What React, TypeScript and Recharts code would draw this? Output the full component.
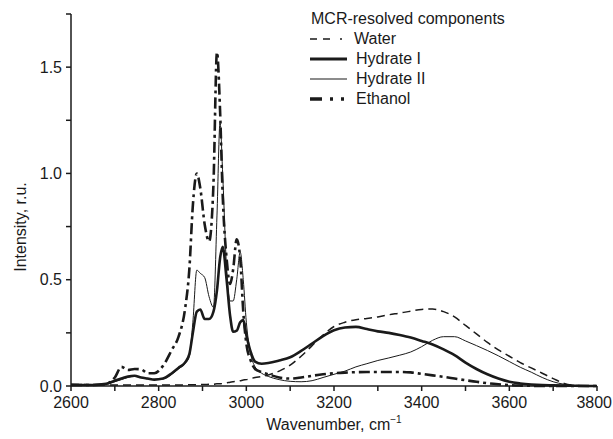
import React from "react";
import { LineChart, Line, XAxis, YAxis, Label } from "recharts";

const wavenumbers = [
  2600, 2650, 2680, 2700, 2715, 2730, 2745, 2760, 2775, 2790,
  2810, 2830, 2845, 2860, 2870, 2878, 2887, 2895, 2905, 2915,
  2925, 2933, 2940, 2946, 2955, 2963, 2970, 2978, 2986, 2993,
  3000, 3010, 3020, 3035, 3050, 3075, 3100, 3125, 3150, 3175,
  3200, 3225, 3250, 3275, 3300, 3325, 3350, 3375, 3400, 3425,
  3450, 3475, 3500, 3525, 3550, 3575, 3600, 3625, 3650, 3675,
  3700, 3725, 3750, 3800,
];

const water = [
  0.008, 0.006, 0.005, 0.005, 0.005, 0.005, 0.005, 0.005, 0.005, 0.005,
  0.005, 0.005, 0.005, 0.005, 0.006, 0.006, 0.006, 0.007, 0.007, 0.008,
  0.008, 0.01, 0.01, 0.012, 0.015, 0.018, 0.02, 0.022, 0.025, 0.028,
  0.03, 0.035, 0.04, 0.045, 0.052, 0.07, 0.098, 0.14, 0.19, 0.24,
  0.28, 0.3, 0.312, 0.318, 0.325, 0.335, 0.343, 0.352, 0.36, 0.362,
  0.35, 0.325, 0.285, 0.245, 0.205, 0.17, 0.14, 0.11, 0.085, 0.06,
  0.035, 0.012, 0.003, 0,
];

const hydrateI = [
  0.005, 0.005, 0.01, 0.025, 0.035, 0.045, 0.048, 0.04, 0.035, 0.03,
  0.035, 0.06, 0.085, 0.11, 0.15, 0.25, 0.35, 0.36, 0.315, 0.315,
  0.35, 0.45, 0.6, 0.655, 0.5, 0.33, 0.255, 0.26, 0.3, 0.31,
  0.24, 0.16, 0.115, 0.105, 0.108, 0.12, 0.135, 0.165, 0.2, 0.235,
  0.262, 0.275, 0.278, 0.268, 0.257, 0.25, 0.24, 0.228, 0.212, 0.195,
  0.172, 0.145, 0.11, 0.08, 0.055, 0.035, 0.02, 0.012, 0.007, 0.004,
  0.003, 0.002, 0.001, 0,
];

const hydrateII = [
  0.005, 0.005, 0.01, 0.02, 0.03, 0.04, 0.045, 0.04, 0.033, 0.03,
  0.033, 0.055, 0.08, 0.105, 0.14, 0.3, 0.545, 0.53, 0.51, 0.42,
  0.37, 0.8, 1.24, 1.0, 0.55, 0.4, 0.4, 0.5, 0.63, 0.5,
  0.3, 0.15, 0.09, 0.06, 0.045, 0.03, 0.022, 0.02, 0.025, 0.04,
  0.055, 0.07, 0.09, 0.105, 0.12, 0.132, 0.145, 0.16, 0.185, 0.215,
  0.232, 0.232, 0.212, 0.19, 0.167, 0.142, 0.115, 0.088, 0.065, 0.04,
  0.02, 0.008, 0.002, 0,
];

const ethanol = [
  0.005, 0.005, 0.01, 0.04, 0.09, 0.075, 0.08, 0.078, 0.06, 0.06,
  0.095, 0.17, 0.23, 0.36, 0.55, 0.85, 1.0, 0.93, 0.76, 0.68,
  0.95, 1.57, 1.3, 0.9, 0.6, 0.48, 0.55, 0.69, 0.6, 0.35,
  0.2, 0.12, 0.08, 0.065, 0.055, 0.04, 0.035, 0.04, 0.048, 0.055,
  0.06, 0.063, 0.065, 0.066, 0.066, 0.066, 0.066, 0.064, 0.057, 0.05,
  0.043, 0.035, 0.027, 0.02, 0.013, 0.008, 0.004, 0.002, 0.001, 0,
  0, 0, 0, 0,
];

const xTicks = [2600, 2700, 2800, 2900, 3000, 3100, 3200, 3300, 3400, 3500, 3600, 3700, 3800];
const yTicks = [0, 0.25, 0.5, 0.75, 1, 1.25, 1.5, 1.75];
const yLabelled = [0, 0.5, 1, 1.5];

const FONT = '"Liberation Sans", Arial, sans-serif';
const INK = "#1a1a1a";

const series = [
  { key: "water", name: "Water", width: 1.5, dash: "8 5", legendDash: "7 6 7 10 2 10", legendWidth: 1.5 },
  { key: "hydrateI", name: "Hydrate I", width: 2.6, dash: undefined, legendDash: undefined, legendWidth: 3 },
  { key: "hydrateII", name: "Hydrate II", width: 1, dash: undefined, legendDash: undefined, legendWidth: 1.2 },
  { key: "ethanol", name: "Ethanol", width: 2.6, dash: "11 4 3 4", legendDash: "12 8 3 8 3 10", legendWidth: 3.5 },
];

const data = wavenumbers.map((w, i) => ({
  w,
  water: water[i],
  hydrateI: hydrateI[i],
  hydrateII: hydrateII[i],
  ethanol: ethanol[i],
}));

// x tick labels only every 200; keep the last one inside the frame
function XTick(props: any) {
  const { x, y, payload } = props;
  const v = payload.value as number;
  if (v % 200 !== 0) return null;
  const last = v === 3800;
  return (
    <text
      x={last ? 612 : x}
      y={y}
      dy="0.71em"
      textAnchor={last ? "end" : "middle"}
      fill={INK}
      fontSize={16}
      fontFamily={FONT}
    >
      {v}
    </text>
  );
}

function ChartLegend() {
  return (
    <div
      style={{
        position: "absolute",
        left: 310,
        top: 9,
        fontFamily: FONT,
        fontSize: 16,
        lineHeight: "20px",
        color: INK,
      }}
    >
      <div style={{ marginLeft: 1 }}>MCR-resolved components</div>
      {series.map((s) => (
        <div key={s.key} style={{ display: "flex", alignItems: "center", height: 20 }}>
          <svg width={44} height={20}>
            <line
              x1={0}
              x2={37}
              y1={10}
              y2={10}
              stroke={INK}
              strokeWidth={s.legendWidth}
              strokeDasharray={s.legendDash}
            />
          </svg>
          <span style={{ marginLeft: s.key === "water" ? 0 : 2 }}>{s.name}</span>
        </div>
      ))}
    </div>
  );
}

export default function App() {
  return (
    <div style={{ position: "absolute", left: 0, top: 0, width: 613, height: 439, background: "#fff" }}>
      <LineChart
        width={613}
        height={439}
        data={data}
        margin={{ top: 14, right: 16, bottom: 0, left: 0 }}
      >
        <XAxis
          dataKey="w"
          type="number"
          domain={[2600, 3800]}
          ticks={xTicks}
          height={53}
          tickSize={5}
          tickMargin={6}
          stroke={INK}
          strokeWidth={1.5}
          tick={<XTick />}
          interval={0}
        >
          <Label
            content={() => (
              <text x={334} y={430} textAnchor="middle" fill={INK} fontSize={16} fontFamily={FONT}>
                Wavenumber, cm
                <tspan dy={-7} fontSize={10}>
                  −1
                </tspan>
              </text>
            )}
          />
        </XAxis>
        <YAxis
          type="number"
          domain={[0, 1.75]}
          ticks={yTicks}
          tickFormatter={(v: number) => (yLabelled.includes(v) ? v.toFixed(1) : "")}
          width={71}
          tickSize={5}
          tickMargin={4}
          stroke={INK}
          strokeWidth={1.5}
          tick={{ fill: INK, fontSize: 16, fontFamily: FONT }}
          interval={0}
        >
          <Label
            content={() => (
              <text
                x={20}
                y={227}
                transform="rotate(-90 20 227)"
                textAnchor="middle"
                dominantBaseline="central"
                fill={INK}
                fontSize={16}
                fontFamily={FONT}
              >
                Intensity, r.u.
              </text>
            )}
          />
        </YAxis>
        {series.map((s) => (
          <Line
            key={s.key}
            dataKey={s.key}
            name={s.name}
            type="monotone"
            stroke={INK}
            strokeWidth={s.width}
            strokeDasharray={s.dash}
            dot={false}
            activeDot={false}
            isAnimationActive={false}
          />
        ))}
      </LineChart>
      <ChartLegend />
    </div>
  );
}
